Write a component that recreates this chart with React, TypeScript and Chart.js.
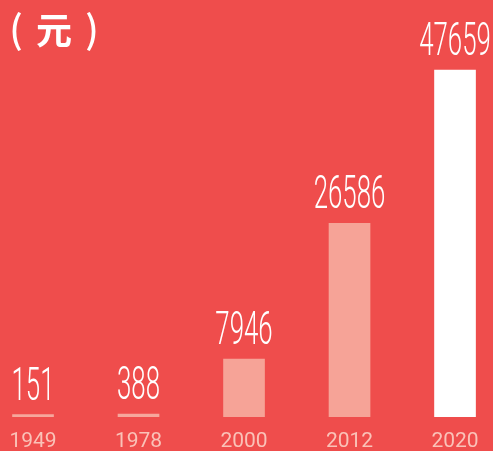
import React, { useEffect, useRef } from "react";
import { Chart, registerables } from "chart.js";

Chart.register(...registerables);

const years = ["1949", "1978", "2000", "2012", "2020"];
const incomes = [151, 388, 7946, 26586, 47659];
const barColors = ["#F6A79C", "#F6A79C", "#F6A397", "#F6A397", "#FFFFFF"];
const unitLabel = ["（", "元", "）"];

const BG = "#EF4D4C";

const bgPlugin = {
  id: "bg",
  beforeDraw(chart: any) {
    const ctx = chart.ctx;
    ctx.save();
    ctx.fillStyle = BG;
    ctx.fillRect(0, 0, chart.width, chart.height);
    ctx.restore();
  },
};

const labelPlugin = {
  id: "valueLabels",
  afterDatasetsDraw(chart: any) {
    const ctx = chart.ctx;
    const meta = chart.getDatasetMeta(0);
    ctx.save();
    ctx.fillStyle = "#FFFFFF";
    ctx.font = "300 47px Roboto";
    ctx.textAlign = "center";
    ctx.textBaseline = "alphabetic";
    meta.data.forEach((el: any, i: number) => {
      const txt = String(incomes[i]);
      ctx.save();
      ctx.translate(el.x, el.y - 15);
      ctx.scale(0.55, 1);
      ctx.fillText(txt, 0, 0);
      ctx.restore();
    });
    // unit title
    ctx.font = "700 36px 'Noto Sans CJK SC'";
    ctx.textAlign = "left";
    ctx.textBaseline = "alphabetic";
    ctx.fillText(unitLabel[1], 36, 44);
    ctx.font = "500 38px 'Noto Sans CJK SC'";
    ctx.textAlign = "center";
    ctx.fillText("(", 16, 43);
    ctx.fillText(")", 92, 43);
    ctx.restore();
  },
};

export default function App() {
  const ref = useRef<HTMLCanvasElement>(null);
  useEffect(() => {
    document.body.style.margin = "0";
    const chart = new Chart(ref.current!, {
      type: "bar",
      data: {
        datasets: [
          {
            data: incomes.map((v, i) => ({ x: i, y: v })),
            backgroundColor: barColors,
            barThickness: 41,
            minBarLength: 2.5,
            borderWidth: 0,
          },
        ],
      },
      options: {
        animation: false,
        responsive: false,
        maintainAspectRatio: false,
        layout: { padding: 0 },
        plugins: { legend: { display: false }, tooltip: { enabled: false } },
        scales: {
          x: {
            type: "linear",
            offset: false,
            min: -0.313,
            max: 4.36,
            grid: { display: false, offset: false },
            border: { display: false },
            afterBuildTicks: (scale: any) => {
              scale.ticks = years.map((_, i) => ({ value: i }));
            },
            afterFit: (scale: any) => {
              scale.height = 34;
            },
            ticks: {
              autoSkip: false,
              maxRotation: 0,
              padding: 4,
              color: "#FAC2B8",
              font: { family: "Roboto", size: 21, weight: "400" as any },
              callback: (v: any) => years[v as number] ?? "",
            },
          },
          y: {
            display: false,
            min: 0,
            max: 57270,
          },
        },
      },
      plugins: [bgPlugin, labelPlugin],
    });
    return () => chart.destroy();
  }, []);
  return <canvas ref={ref} width={493} height={451} style={{ display: "block" }} />;
}
